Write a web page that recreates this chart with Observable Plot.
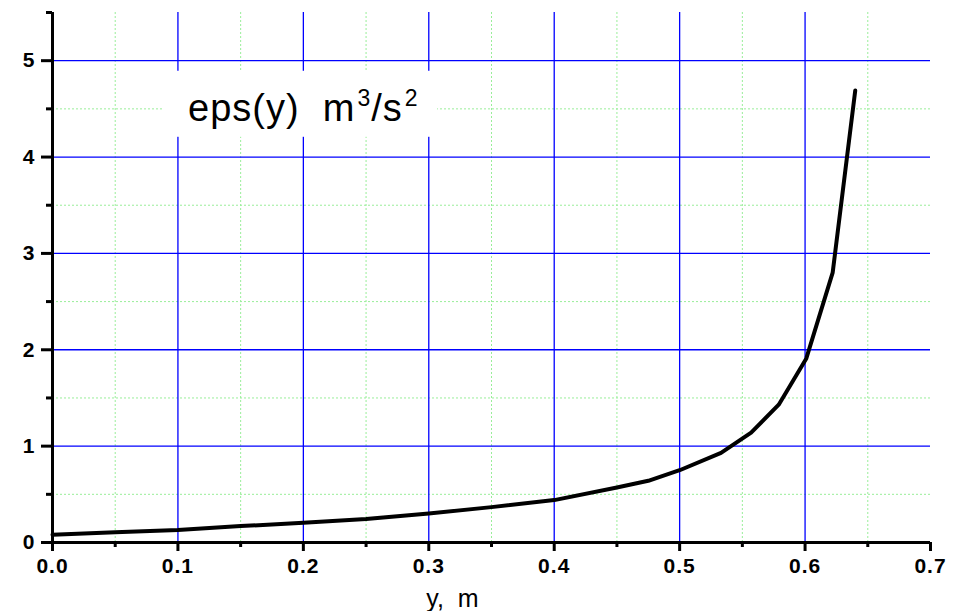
<!DOCTYPE html>
<html>
<head>
<meta charset="utf-8">
<script src="https://cdn.jsdelivr.net/npm/d3@7"></script>
<script src="https://cdn.jsdelivr.net/npm/@observablehq/plot@0.6"></script>
<style>
  html, body { margin: 0; padding: 0; background: #fff; }
  #chart svg { display: block; }
  #chart text { white-space: pre; }
</style>
</head>
<body>
<div id="chart"></div>
<script>
// eps(y) profile, m^3/s^2, versus distance y, m
const yDist = [0, 0.05, 0.1, 0.15, 0.2, 0.25, 0.3, 0.35, 0.4, 0.45, 0.475, 0.5, 0.533, 0.557, 0.579, 0.601, 0.622, 0.640];
const epsVal = [0.08, 0.107, 0.13, 0.17, 0.205, 0.245, 0.30, 0.367, 0.44, 0.57, 0.64, 0.75, 0.93, 1.14, 1.43, 1.91, 2.80, 4.69];

// axis ticks
const xMajor = [0, 0.1, 0.2, 0.3, 0.4, 0.5, 0.6, 0.7];
const xMinor = [0.05, 0.15, 0.25, 0.35, 0.45, 0.55, 0.65];
const yMajor = [0, 1, 2, 3, 4, 5];
const yMinor = [0.5, 1.5, 2.5, 3.5, 4.5, 5.5];

// labels
const xLabel = "y,  m";
const titleText = "eps(y)  m3/s2";
const titleParts = [["eps(y)  m", false], ["3", true], ["/s", false], ["2", true]];

// white panel behind the title, in data units
const titleBox = {x1: 0.0885, x2: 0.307, y1: 4.205, y2: 4.89};
const titleAt = {x: 0.2, y: 4.5};

const data = yDist.map((y, i) => ({y, eps: epsVal[i]}));

const gridBlue = "#0000ff";
const gridGreen = "#99ee99";
const xFmt = d3.format(".1f");
const yFmt = d3.format("d");

const chart = Plot.plot({
  width: 964,
  height: 611,
  marginLeft: 52,
  marginRight: 34,
  marginTop: 12,
  marginBottom: 69,
  style: {fontFamily: "'Liberation Sans', Arial, sans-serif", background: "#fff", color: "#000"},
  x: {domain: [0, 0.7]},
  y: {domain: [0, 5.5]},
  marks: [
    // minor grid
    Plot.ruleX(xMinor, {stroke: gridGreen, strokeWidth: 1, strokeDasharray: "2,2"}),
    Plot.ruleY(yMinor.filter(d => d < 5.5), {x1: 0, x2: 0.7, stroke: gridGreen, strokeWidth: 1, strokeDasharray: "2,2"}),
    // major grid
    Plot.ruleX(xMajor.filter(d => d > 0 && d < 0.7), {stroke: gridBlue, strokeWidth: 1.3}),
    Plot.ruleY(yMajor.filter(d => d > 0), {x1: 0, x2: 0.7, stroke: gridBlue, strokeWidth: 1.3}),
    // title panel and text
    Plot.rect([titleBox], {x1: "x1", x2: "x2", y1: "y1", y2: "y2", fill: "#fff"}),
    Plot.text([titleAt], {x: "x", y: "y", text: () => titleText, textAnchor: "middle", lineAnchor: "middle",
      fontSize: 38, fill: "#000"}),
    // curve
    Plot.line(data, {x: "y", y: "eps", stroke: "#000", strokeWidth: 4, strokeLinejoin: "round", strokeLinecap: "round"}),
    // axes
    Plot.axisX(xMajor, {tickSize: 9, tickPadding: 7, strokeWidth: 3, tickFormat: xFmt, label: null,
      fontSize: 21, fontWeight: "bold", ariaLabel: "x tick labels"}),
    Plot.axisX(xMinor, {tickSize: 5, strokeWidth: 3, tickFormat: () => "", label: null}),
    Plot.axisY(yMajor, {tickSize: 11, tickPadding: 6, strokeWidth: 3, tickFormat: yFmt, label: null,
      fontSize: 21, fontWeight: "bold"}),
    Plot.axisY(yMinor, {tickSize: 6, strokeWidth: 3, tickFormat: () => "", label: null}),
    Plot.ruleX([0], {stroke: "#000", strokeWidth: 3}),
    Plot.ruleY([0], {x1: 0, x2: 0.7, stroke: "#000", strokeWidth: 3}),
    // x axis title
    Plot.text([xLabel], {frameAnchor: "bottom", dx: -39, dy: 64, fontSize: 25, fill: "#000", lineAnchor: "bottom"})
  ]
});

// heavier tick labels
const tickTexts = new Set([...xMajor.map(xFmt), ...yMajor.map(yFmt)]);
for (const el of chart.querySelectorAll("text")) {
  if (tickTexts.has(el.textContent)) {
    el.setAttribute("font-size", "21");
    el.setAttribute("font-weight", "bold");
    el.setAttribute("letter-spacing", "1");
    el.style.fontSize = "21px";
    el.style.fontWeight = "bold";
  }
}

// title with raised exponents
const titleNode = Array.from(chart.querySelectorAll("text")).find(el => el.textContent === titleText);
if (titleNode) {
  titleNode.setAttribute("letter-spacing", "1");
  while (titleNode.firstChild) titleNode.removeChild(titleNode.firstChild);
  let prevSup = false;
  for (const [str, sup] of titleParts) {
    const ts = document.createElementNS("http://www.w3.org/2000/svg", "tspan");
    ts.textContent = str;
    if (sup) {
      ts.setAttribute("font-size", "23");
      ts.setAttribute("dy", prevSup ? "0" : "-15");
      ts.setAttribute("dx", "2");
    } else if (prevSup) {
      ts.setAttribute("dy", "15");
    }
    prevSup = sup;
    titleNode.appendChild(ts);
  }
}

document.getElementById("chart").appendChild(chart);
</script>
</body>
</html>
